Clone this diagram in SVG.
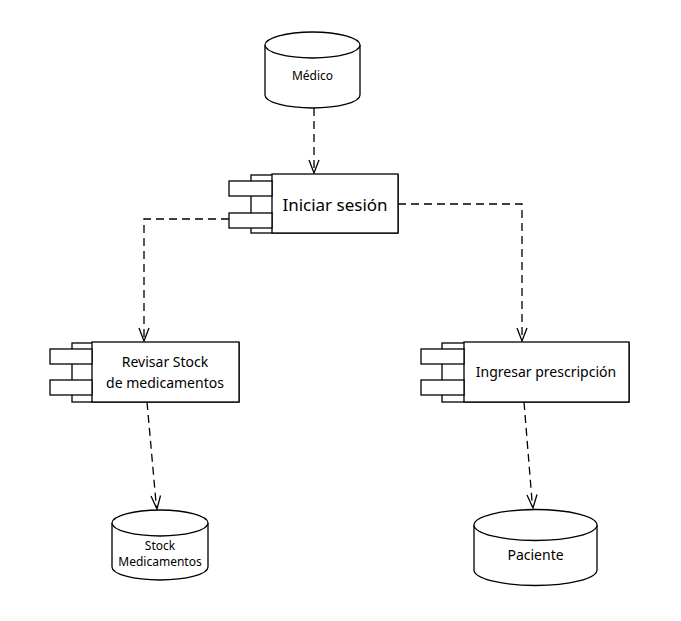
<svg xmlns="http://www.w3.org/2000/svg" width="681" height="621" viewBox="0 0 681 621">
<defs>
<style>
.sh{fill:#fff;stroke:#000;stroke-width:1.3}
.cn{fill:none;stroke:#000;stroke-width:1.3;stroke-dasharray:8,5}
.ah{fill:none;stroke:#000;stroke-width:1.3}
text{font-family:"Noto Sans","Open Sans",sans-serif;fill:#000;text-anchor:middle}
</style>
</defs>
<rect width="681" height="621" fill="#fff"/>
<g id="connectors">
<path class="cn" d="M314,108 V172"/>
<path class="ah" d="M309,160 L314,173 L319,160"/>
<path class="cn" d="M229,219 H144 V340"/>
<path class="ah" d="M139,328 L144,341 L149,328"/>
<path class="cn" d="M398,204 H522 V340"/>
<path class="ah" d="M517,328 L522,341 L527,328"/>
<path class="cn" d="M147,402 L156.5,508"/>
<path class="ah" d="M151,496 L157,509 L160.5,495.5"/>
<path class="cn" d="M524,402 L532.5,507"/>
<path class="ah" d="M527,495 L533,508 L537,494.5"/>
</g>
<g id="medico">
<path class="sh" d="M265,45 A47.5,13 0 0 1 360,45 V95 A47.5,13 0 0 1 265,95 Z"/>
<path class="sh" d="M265,45 A47.5,13 0 0 0 360,45" fill="none"/>
<text x="312.5" y="80" font-size="12">Médico</text>
</g>
<g id="iniciar">
<rect class="sh" x="251" y="175" width="147" height="58"/>
<rect class="sh" x="272" y="174" width="126" height="59"/>
<rect class="sh" x="229" y="181" width="43" height="15"/>
<rect class="sh" x="229" y="213" width="43" height="15"/>
<text x="335" y="211" font-size="17">Iniciar sesión</text>
</g>
<g id="revisar">
<rect class="sh" x="72" y="343" width="167" height="59"/>
<rect class="sh" x="92" y="342" width="147" height="60"/>
<rect class="sh" x="50" y="349" width="42" height="15"/>
<rect class="sh" x="50" y="380" width="42" height="15"/>
<text x="165" y="367" font-size="14">Revisar Stock</text>
<text x="165" y="388" font-size="14">de medicamentos</text>
</g>
<g id="ingresar">
<rect class="sh" x="442" y="343" width="187" height="59"/>
<rect class="sh" x="464" y="342" width="165" height="60"/>
<rect class="sh" x="421" y="349" width="43" height="15"/>
<rect class="sh" x="421" y="380" width="43" height="15"/>
<text x="546" y="377" font-size="14">Ingresar prescripción</text>
</g>
<g id="stock">
<path class="sh" d="M112,523 A48,13 0 0 1 208,523 V567 A48,13 0 0 1 112,567 Z"/>
<path class="sh" d="M112,523 A48,13 0 0 0 208,523" fill="none"/>
<text x="160" y="550" font-size="12">Stock</text>
<text x="160" y="566" font-size="12">Medicamentos</text>
</g>
<g id="paciente">
<path class="sh" d="M474,525 A61.5,15.5 0 0 1 597,525 V570 A61.5,15.5 0 0 1 474,570 Z"/>
<path class="sh" d="M474,525 A61.5,15.5 0 0 0 597,525" fill="none"/>
<text x="535.5" y="560" font-size="14">Paciente</text>
</g>
</svg>
